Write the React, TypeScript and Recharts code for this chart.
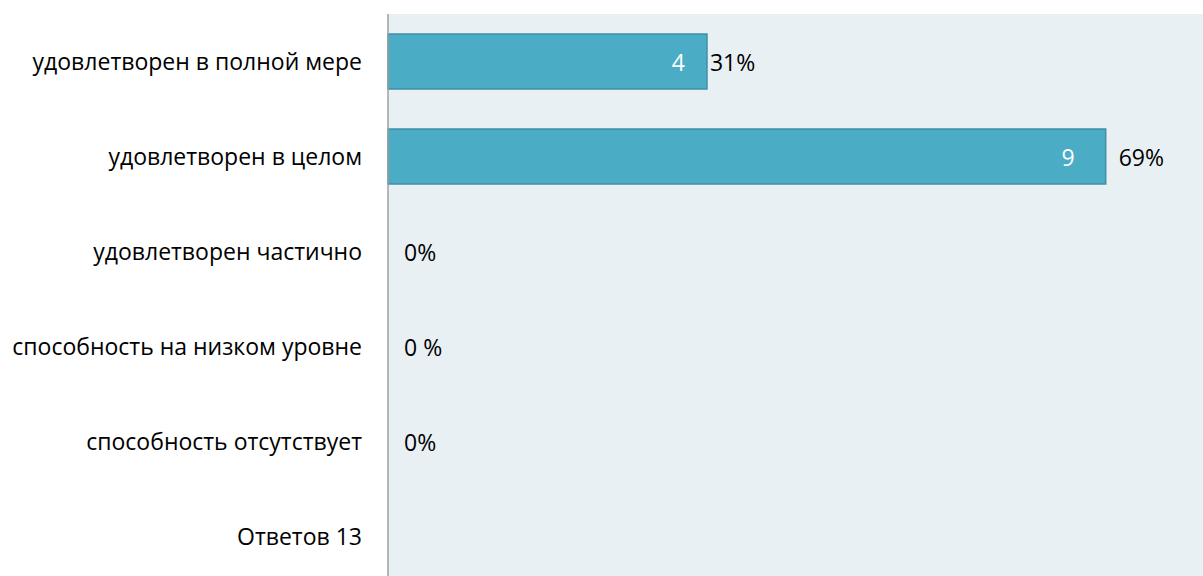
import React from 'react';
import { ComposedChart, Bar, Scatter, XAxis, YAxis, CartesianGrid, LabelList } from 'recharts';

const categories = [
  'удовлетворен в полной мере',
  'удовлетворен в целом',
  'удовлетворен частично',
  'способность на низком уровне',
  'способность отсутствует',
  'Ответов 13',
];
const counts: (number | null)[] = [4, 9, 0, 0, 0, null];
const pctLabels = ['31%', '69%', '0%', '0 %', '0%', ''];

const labelDx = [3, 13, 16, 16, 16, 0];
const countInset = [22, 31, 22, 22, 22, 22];

const data = categories.map((name, i) => ({ name, count: counts[i], pct: pctLabels[i] }));

const FONT = '"Open Sans", sans-serif';
const FS = 23;

const PctPoint = (props: any) => {
  const { cx, cy, index, payload } = props;
  if (!payload || !payload.pct || cx == null || isNaN(cx)) return <g />;
  return (
    <text
      x={Number(cx) + labelDx[index]}
      y={Number(cy)}
      dominantBaseline="central"
      fill="#000"
      fontSize={FS}
      fontFamily={FONT}
    >
      {payload.pct}
    </text>
  );
};

const CountLabel = (props: any) => {
  const { x, y, width, height, value, index } = props;
  if (!value) return null;
  return (
    <text
      x={Number(x) + Number(width) - countInset[index ?? 0]}
      y={Number(y) + Number(height) / 2}
      dominantBaseline="central"
      textAnchor="end"
      fill="#fff"
      fontSize={FS}
      fontFamily={FONT}
    >
      {value}
    </text>
  );
};

export default function App() {
  return (
    <div style={{ position: 'fixed', left: 0, top: 0, width: 1203, height: 576, overflow: 'hidden', background: '#fff' }}>
      <ComposedChart
        width={1203}
        height={600}
        data={data}
        layout="vertical"
        margin={{ top: 14, right: 0, bottom: 16, left: 0 }}
      >
        <CartesianGrid fill="#E9F0F4" horizontal={false} vertical={false} stroke="none" />
        <XAxis type="number" domain={[0, 10.22]} hide />
        <YAxis
          type="category"
          dataKey="name"
          width={388}
          axisLine={{ stroke: '#A0A0A0', strokeWidth: 1.5 }}
          tickLine={false}
          tickMargin={20}
          tick={{ fill: '#000', fontSize: FS, fontFamily: FONT }}
        />
        <Bar dataKey="count" barSize={55} fill="#4BACC6" stroke="#3F8FA6" strokeWidth={1.5} isAnimationActive={false}>
          <LabelList dataKey="count" content={CountLabel} />
        </Bar>
        <Scatter dataKey="count" shape={PctPoint} isAnimationActive={false} />
      </ComposedChart>
    </div>
  );
}
